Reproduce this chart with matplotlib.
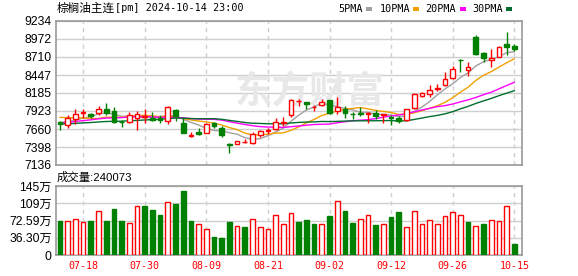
import matplotlib
matplotlib.use("Agg")
import matplotlib.pyplot as plt
from matplotlib.patches import Rectangle
import numpy as np
import pandas as pd

# ---------------- data ----------------
opens = [7760, 7725, 7805, 7890, 7880, 7898, 7950, 7923, 7765, 7757,
         7826, 7830, 7826, 7826, 7770, 7937, 7748, 7558, 7622, 7607,
         7743, 7680, 7436, 7447, 7470, 7452, 7573, 7630, 7661, 7752,
         7860, 8065, 8055, 7975, 8005, 8083, 7930, 7947, 7882, 7886,
         7883, 7897, 7865, 7835, 7826, 7791, 7961, 8141, 8170, 8240,
         8302, 8399, 8670, 8515, 9003, 8768, 8670, 8714, 8899, 8870]
highs = [7775, 7860, 7952, 7950, 7893, 7995, 8035, 7976, 7790, 7903,
         7923, 7950, 7903, 7870, 7995, 7955, 7815, 7615, 7675, 7755,
         7767, 7709, 7451, 7490, 7520, 7622, 7646, 7680, 7826, 7840,
         8093, 8093, 8058, 8010, 8093, 8088, 8132, 7998, 7905, 7985,
         7905, 7935, 7885, 7865, 7850, 7957, 8185, 8200, 8302, 8311,
         8484, 8580, 8676, 8642, 9030, 8777, 8826, 8870, 9069, 8894]
lows = [7640, 7670, 7730, 7815, 7815, 7860, 7870, 7743, 7685, 7743,
        7650, 7755, 7780, 7745, 7735, 7780, 7595, 7537, 7575, 7600,
        7670, 7549, 7316, 7437, 7461, 7445, 7539, 7583, 7646, 7709,
        7835, 8000, 7950, 7930, 8000, 7880, 7879, 7820, 7800, 7850,
        7743, 7800, 7745, 7720, 7743, 7777, 7952, 8122, 8132, 8209,
        8290, 8386, 8496, 8438, 8734, 8642, 8569, 8705, 8739, 8797]
closes = [7730, 7815, 7876, 7910, 7853, 7950, 7895, 7768, 7760, 7866,
          7872, 7855, 7795, 7785, 7975, 7852, 7607, 7566, 7592, 7728,
          7704, 7578, 7430, 7481, 7478, 7583, 7631, 7640, 7758, 7760,
          8080, 8070, 8020, 7982, 8056, 7897, 7975, 7888, 7876, 7882,
          7888, 7850, 7872, 7825, 7770, 7947, 8170, 8190, 8229, 8252,
          8386, 8532, 8662, 8559, 8752, 8698, 8702, 8850, 8860, 8826]
# closes of the sessions before the visible window (estimated, for MA warm-up)
prior_closes = [7720, 7690, 7705, 7680, 7710, 7685, 7700, 7690, 7715, 7695,
                7660, 7640, 7650, 7625, 7655, 7680, 7700, 7690, 7690, 7710,
                7850, 7900, 7930, 7950, 7920,
                7710, 7800, 7740, 7770]
# volume in 万
volumes = [71.5, 70.7, 75.0, 69.3, 71.5, 91.8, 71.5, 96.7, 71.5, 67.2,
           103.0, 103.7, 94.6, 84.0, 111.4, 107.2, 134.5, 71.5, 65.1, 53.9,
           37.8, 35.7, 69.3, 61.0, 58.8, 75.0, 58.1, 53.9, 83.4, 65.1,
           88.3, 69.3, 73.5, 65.1, 65.1, 82.0, 112.8, 92.5, 68.0, 75.0,
           84.0, 63.0, 65.1, 79.9, 90.4, 58.8, 91.8, 65.1, 73.5, 65.1,
           82.0, 90.4, 84.0, 69.3, 61.0, 65.1, 73.5, 71.5, 103.0, 24.0073]
last_volume_text = "240073"

tick_idx = [3, 11, 19, 27, 35, 43, 51, 59]
tick_labels = ['07-18', '07-30', '08-09', '08-21', '09-02', '09-12', '09-26', '10-15']
price_ticks = [7136, 7398, 7660, 7923, 8185, 8447, 8710, 8972, 9234]
vol_ticks = [0, 36.30, 72.59, 108.89, 145.18]
vol_tick_labels = ['0', '36.30万', '72.59万', '109万', '145万']
ma_periods = [5, 10, 20, 30]
ma_names = ['5PMA', '10PMA', '20PMA', '30PMA']

# ---------------- style ----------------
RED = '#ff0000'
GREEN = '#008000'
MA_COLORS = ['#a0a0a0', '#f0a000', '#ff00ff', '#006e2e']
GRID = '#cfcfcf'
FRAME = '#999999'
NUM_FONT = ['Liberation Sans', 'Noto Sans CJK SC']
MONO = 'DejaVu Sans Mono'

W, H = 578, 276
fig = plt.figure(figsize=(W / 100, H / 100), dpi=100)

def box(l, t, r, b):
    return [l / W, 1 - b / H, (r - l) / W, (b - t) / H]

ax = fig.add_axes(box(56, 21, 522, 165))
axv = fig.add_axes(box(56, 186, 522, 255))

n = len(closes)
x = np.arange(n)
XL = (-0.52, 60.0)

# ---------------- price panel ----------------
ax.set_xlim(*XL)
ax.set_ylim(price_ticks[0], price_ticks[-1])
ax.set_yticks(price_ticks)
ax.set_yticklabels([str(t) for t in price_ticks], family=NUM_FONT, fontsize=8.7)
ax.set_xticks([])
for yv in price_ticks:
    ax.axhline(yv, color=GRID, lw=1, zorder=0)
for xi in tick_idx:
    ax.axvline(xi, color=GRID, lw=1, ls=(0, (3, 3)), zorder=0)

ax.text(0.545, 0.505, '东方财富', transform=ax.transAxes, ha='center', va='center',
        fontsize=27, fontweight='bold', color='#e8e8e8',
        family=['Noto Sans CJK SC'], zorder=0.5)

bw = 0.62
for i in range(n):
    o, h, l, c = opens[i], highs[i], lows[i], closes[i]
    up = c >= o
    col = RED if up else GREEN
    ax.vlines(i, l, h, color=col, lw=1, zorder=3)
    bottom = min(o, c)
    height = max(abs(c - o), 6)
    ax.add_patch(Rectangle((i - bw / 2, bottom), bw, height,
                           facecolor='white' if up else GREEN,
                           edgecolor=col, lw=1, zorder=4))

all_closes = pd.Series(prior_closes + closes, dtype=float)
k = len(prior_closes)
for p, colr in zip(ma_periods, MA_COLORS):
    ma = all_closes.rolling(p, min_periods=1).mean().iloc[k:].to_numpy()
    ax.plot(x, ma, color=colr, lw=1, zorder=2.5)

for sp in ax.spines.values():
    sp.set_color(FRAME)
    sp.set_linewidth(1.2)
ax.tick_params(axis='y', length=0, pad=3, colors='black')

# ---------------- volume panel ----------------
axv.set_xlim(*XL)
axv.set_ylim(0, vol_ticks[-1])
axv.set_yticks(vol_ticks)
axv.set_yticklabels(vol_tick_labels, family=NUM_FONT, fontsize=8.7)
axv.set_xticks(tick_idx)
axv.set_xticklabels(tick_labels, family=MONO, fontsize=7.2, color=RED)
for yv in vol_ticks:
    axv.axhline(yv, color=GRID, lw=1, zorder=0)
for xi in tick_idx:
    axv.axvline(xi, color=GRID, lw=1, ls=(0, (3, 3)), zorder=0)

prev = [prior_closes[-1]] + closes[:-1]
for i in range(n):
    up = closes[i] >= prev[i]
    if up:
        axv.bar(i, volumes[i], width=bw, facecolor='white', edgecolor=RED, lw=1, zorder=3)
    else:
        axv.bar(i, volumes[i], width=bw, facecolor=GREEN, edgecolor=GREEN, lw=1, zorder=3)

for sp in axv.spines.values():
    sp.set_color(FRAME)
    sp.set_linewidth(1.2)
axv.tick_params(axis='y', length=0, pad=3, colors='black')
axv.tick_params(axis='x', length=0, pad=4)

# ---------------- header texts ----------------
fig.text(57 / W, 1 - 8 / H, '棕榈油主连', family=['Noto Sans CJK SC'], fontsize=8.4,
         ha='left', va='center')
fig.text(115 / W, 1 - 8 / H, '[pm] 2024-10-14 23:00', family=MONO, fontsize=7.3,
         ha='left', va='center')

legend_x = [338, 380, 425, 472]
square_x = [366, 413, 460, 506]
for name, tx, sx, colr in zip(ma_names, legend_x, square_x, MA_COLORS):
    fig.text(tx / W, 1 - 9 / H, name, family=MONO, fontsize=7.3, ha='left', va='center')
    fig.patches.append(Rectangle((sx / W, 1 - 11 / H), 5.5 / W, 4 / H,
                                 transform=fig.transFigure, facecolor=colr,
                                 edgecolor='none'))

fig.text(57 / W, 1 - 177.5 / H, '成交量:' + last_volume_text,
         family=['Liberation Sans', 'Noto Sans CJK SC'], fontsize=8.2,
         ha='left', va='center')

fig.savefig('out.png', dpi=100)
